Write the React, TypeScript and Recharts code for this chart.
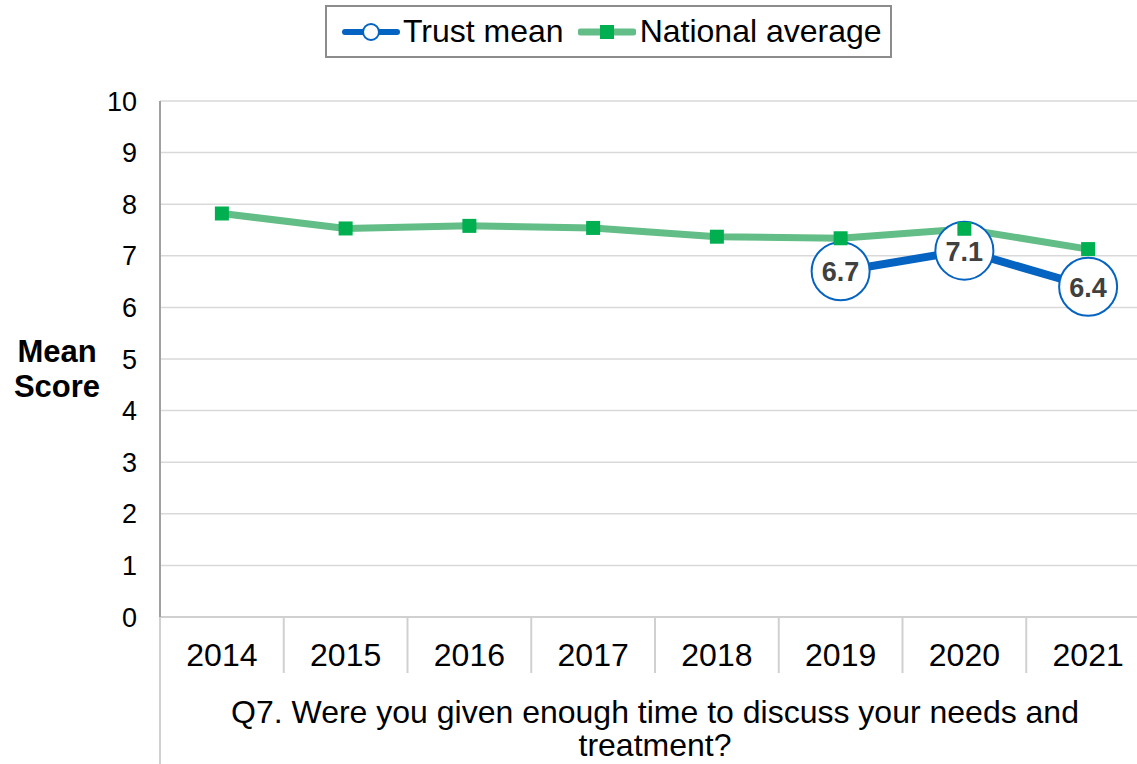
import * as React from 'react';
import { LineChart, Line, XAxis, YAxis, CartesianGrid, Legend, LabelList } from 'recharts';

const years = ['2014', '2015', '2016', '2017', '2018', '2019', '2020', '2021'];
const trustMean = [null, null, null, null, null, 6.7, 7.1, 6.4];
const nationalAverage = [7.82, 7.53, 7.58, 7.54, 7.37, 7.34, 7.52, 7.13];
const yTicks = [0, 1, 2, 3, 4, 5, 6, 7, 8, 9, 10];
const xTitleLines = ['Q7. Were you given enough time to discuss your needs and', 'treatment?'];
const yTitleLines = ['Mean', 'Score'];

const data = years.map((year, i) => ({
  year,
  trust: trustMean[i],
  national: nationalAverage[i],
}));

const FONT = '"Liberation Sans", Arial, sans-serif';
const W = 1150;
const H = 764;
const AXIS_W = 160;
const BAND = (W - AXIS_W) / years.length;
const BLUE = '#0563c1';
const GREEN_LINE = '#62bd86';
const GREEN_MARK = '#00b050';

const XTick = (props: any) => {
  const { x, y, payload, index } = props;
  const left = x - BAND / 2;
  return (
    <g>
      <line
        x1={left}
        y1={y}
        x2={left}
        y2={index === 0 ? H : y + 56}
        stroke="#d0d0d0"
        strokeWidth={2}
      />
      <text x={x} y={y + 49} textAnchor="middle" fontSize={32} fill="#000" fontFamily={FONT}>
        {payload.value}
      </text>
    </g>
  );
};

const TrustDot = (props: any) => {
  const { cx, cy, index } = props;
  if (cy == null || props.value == null) return <g key={`t${index}`} />;
  return <circle key={`t${index}`} cx={cx} cy={cy} r={29} fill="#fff" stroke={BLUE} strokeWidth={2} />;
};

const SquareDot = (props: any) => {
  const { cx, cy, index } = props;
  if (cy == null) return <g key={`n${index}`} />;
  return <rect key={`n${index}`} x={cx - 7} y={cy - 7} width={14} height={14} fill={GREEN_MARK} />;
};

const TrustLabel = (props: any) => {
  const { x, y, value } = props;
  if (value == null || y == null) return null;
  return (
    <g>
      <rect x={x - 21} y={y - 15} width={42} height={28} fill="#fff" fillOpacity={0.6} />
      <text
        x={x}
        y={y + 10}
        textAnchor="middle"
        fontSize={27}
        fontWeight="bold"
        fill="#404040"
        fontFamily={FONT}
      >
        {value.toFixed(1)}
      </text>
    </g>
  );
};

const LegendBox = () => (
  <div
    style={{
      display: 'flex',
      alignItems: 'center',
      height: 53,
      boxSizing: 'border-box',
      border: '2px solid #8c8c8c',
      background: '#fff',
      padding: '0 8px 0 15px',
      fontFamily: FONT,
      fontSize: 32,
      color: '#000',
      whiteSpace: 'nowrap',
    }}
  >
    <svg width={58} height={20} style={{ marginRight: 3 }}>
      <line x1={3} y1={10} x2={55} y2={10} stroke={BLUE} strokeWidth={6} strokeLinecap="round" />
      <circle cx={29} cy={10} r={8} fill="#fff" stroke={BLUE} strokeWidth={2} />
    </svg>
    <span>Trust mean</span>
    <svg width={58} height={20} style={{ marginLeft: 14, marginRight: 4 }}>
      <line x1={3} y1={10} x2={55} y2={10} stroke={GREEN_LINE} strokeWidth={7} strokeLinecap="round" />
      <rect x={22} y={3} width={14} height={14} fill={GREEN_MARK} />
    </svg>
    <span>National average</span>
  </div>
);

const XTitle = (props: any) => {
  const { viewBox } = props;
  const cx = viewBox.x + viewBox.width / 2;
  return (
    <text textAnchor="middle" fontSize={32} fill="#000" fontFamily={FONT}>
      {xTitleLines.map((line, i) => (
        <tspan key={line} x={cx} y={viewBox.y + 106 + i * 33}>
          {line}
        </tspan>
      ))}
    </text>
  );
};

const YTitle = (props: any) => {
  const { viewBox } = props;
  const cy = viewBox.y + viewBox.height / 2;
  return (
    <text textAnchor="middle" fontSize={31} fontWeight="bold" fill="#000" fontFamily={FONT}>
      {yTitleLines.map((line, i) => (
        <tspan key={line} x={57} y={cy + 3 + i * 35}>
          {line}
        </tspan>
      ))}
    </text>
  );
};

export default function App() {
  return (
    <div
      style={{
        position: 'absolute',
        left: 0,
        top: 0,
        width: 1137,
        height: 764,
        overflow: 'hidden',
        background: '#fff',
      }}
    >
      <LineChart width={W} height={H} data={data} margin={{ top: 101, right: 0, left: 0, bottom: 0 }}>
        <CartesianGrid vertical={false} stroke="#d9d9d9" strokeWidth={1.5} />
        <XAxis
          dataKey="year"
          scale="band"
          height={147}
          interval={0}
          tickLine={false}
          tickSize={0}
          tickMargin={0}
          axisLine={{ stroke: '#d0d0d0', strokeWidth: 2 }}
          tick={<XTick />}
          label={{ content: <XTitle /> }}
        />
        <YAxis
          domain={[0, 10]}
          ticks={yTicks}
          interval={0}
          width={AXIS_W}
          tickLine={false}
          tickSize={0}
          tickMargin={23}
          axisLine={{ stroke: '#a0a0a0', strokeWidth: 2 }}
          tick={{ fontSize: 27, fill: '#000', fontFamily: FONT }}
          label={{ content: <YTitle /> }}
        />
        <Legend
          verticalAlign="middle"
          align="center"
          layout="horizontal"
          content={<LegendBox />}
          wrapperStyle={{ top: 5, left: 325, width: 'auto' }}
        />
        <Line
          dataKey="trust"
          name="Trust mean"
          stroke={BLUE}
          strokeWidth={8}
          dot={<TrustDot />}
          activeDot={false}
          isAnimationActive={false}
        />
        <Line
          dataKey="national"
          name="National average"
          stroke={GREEN_LINE}
          strokeWidth={7}
          dot={<SquareDot />}
          activeDot={false}
          isAnimationActive={false}
        />
        <Line
          dataKey="trust"
          stroke="none"
          dot={false}
          activeDot={false}
          legendType="none"
          isAnimationActive={false}
        >
          <LabelList dataKey="trust" content={<TrustLabel />} />
        </Line>
      </LineChart>
    </div>
  );
}
